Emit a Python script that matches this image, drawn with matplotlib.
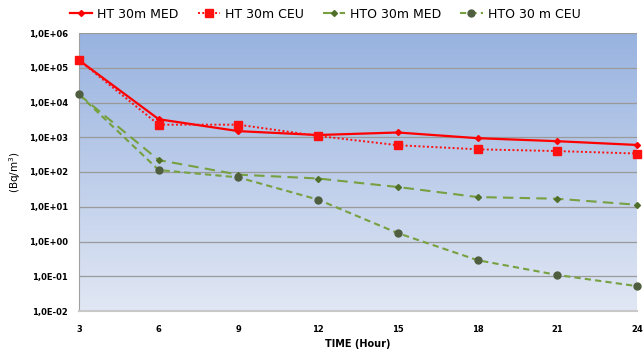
import matplotlib
matplotlib.use("Agg")
import matplotlib.pyplot as plt
import numpy as np
from matplotlib.colors import LinearSegmentedColormap

hours = [3, 6, 9, 12, 15, 18, 21, 24]
ht_med = [1.65e5, 3.3e3, 1.5e3, 1.16e3, 1.37e3, 9.4e2, 7.7e2, 6.0e2]
ht_ceu = [1.65e5, 2.3e3, 2.3e3, 1.09e3, 5.9e2, 4.5e2, 4.0e2, 3.4e2]
hto_med = [1.7e4, 2.2e2, 84, 65, 37, 19, 17, 11.4]
hto_ceu = [1.7e4, 1.14e2, 70, 16, 1.74, 0.29, 0.109, 0.052]
yticks = [1e-2, 1e-1, 1e0, 1e1, 1e2, 1e3, 1e4, 1e5, 1e6]
ytick_labels = ["1,0E-02", "1,0E-01", "1,0E+00", "1,0E+01", "1,0E+02",
                "1,0E+03", "1,0E+04", "1,0E+05", "1,0E+06"]

fig = plt.figure(figsize=(6.44, 3.51), dpi=100)
ax = fig.add_axes([79/644, 1-311/351, (637-79)/644, (311-33)/351])

cmap = LinearSegmentedColormap.from_list("bg", ["#98B3E0", "#E1E7F4"])
grad = np.linspace(0, 1, 256).reshape(-1, 1)
ax.imshow(grad, cmap=cmap, aspect="auto", extent=[0, 1, 0, 1],
          transform=ax.transAxes, zorder=0, origin="upper")

ax.set_yscale("log")
ax.set_xlim(3, 24)
ax.set_ylim(1e-2, 1e6)
ax.set_yticks(yticks)
ax.set_yticklabels(ytick_labels)
ax.yaxis.set_minor_locator(matplotlib.ticker.NullLocator())
ax.set_xticks(hours)
ax.grid(axis="y", color="#9A9A9A", linewidth=0.9, zorder=1)
ax.tick_params(length=0, labelsize=6)
ax.tick_params(axis="y", pad=8)
ax.tick_params(axis="x", pad=10)
for lab in ax.get_xticklabels() + ax.get_yticklabels():
    lab.set_fontweight("bold")

for s in ["top", "right"]:
    ax.spines[s].set_visible(False)
ax.spines["left"].set_color("#A0A0A0")
ax.spines["bottom"].set_color("#C8C8C8")
ax.spines["bottom"].set_linewidth(1.5)

ax.plot(hours, ht_med, color="#FF0000", lw=1.6, ls="-", marker="D", ms=3,
        label="HT 30m MED", zorder=4, clip_on=False)
ax.plot(hours, ht_ceu, color="#FF1010", lw=1.4, ls=(0, (1, 1.2)), marker="s", ms=6,
        label="HT 30m CEU", zorder=4, clip_on=False)
ax.plot(hours, hto_med, color="#77A040", lw=1.5, ls=(0, (5, 3)), marker="D", ms=3,
        mfc="#4F6F2A", mec="#4F6F2A", label="HTO 30m MED", zorder=3, clip_on=False)
ax.plot(hours, hto_ceu, color="#77A040", lw=1.5, ls=(0, (3, 2)), marker="o", ms=5,
        mfc="#4F5E3F", mec="#4F5E3F", label="HTO 30 m CEU", zorder=3, clip_on=False)

ax.set_xlabel("TIME (Hour)", fontsize=7, fontweight="bold", labelpad=4)
ax.set_ylabel("(Bq/m$^3$)", fontsize=7.5, labelpad=4)

fig.legend(loc="upper center", bbox_to_anchor=(0.505, 1.01), ncol=4, frameon=False,
           fontsize=9, handlelength=1.8, columnspacing=1.5, handletextpad=0.4)

fig.savefig("out.png", dpi=100)
